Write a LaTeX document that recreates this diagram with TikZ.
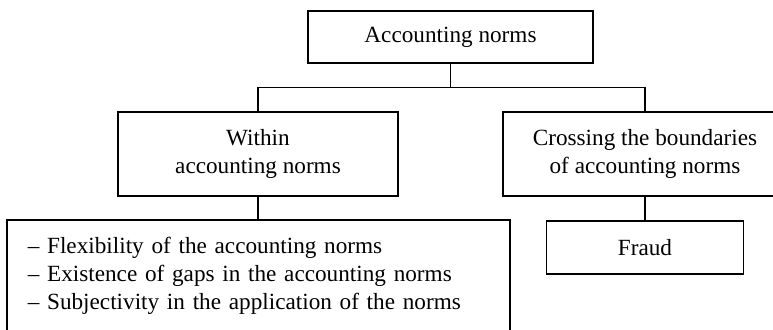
\documentclass[tikz,border=0pt]{standalone}
\usepackage{fontspec}
\setmainfont{Liberation Serif}
\usepackage{tikz}
\usetikzlibrary{positioning}

\begin{document}
\begin{tikzpicture}[x=0.5pt,y=-0.5pt,line width=0.9pt,
    blk/.style={draw=black,inner sep=0pt,align=center,font=\fontsize{11.6}{14}\selectfont}]
        \useasboundingbox (0,0) rectangle (773,329);
        \node[blk,minimum width=142.5pt,minimum height=26pt] (norms) at (450.5,37) {Accounting norms};
        \node[blk,minimum width=140pt,minimum height=42pt] (within) at (258,154) {Within\\accounting norms};
        \node[blk,minimum width=142pt,minimum height=42pt] (cross) at (645,154) {Crossing the boundaries\\of accounting norms};
        \node[blk,text width=230.5pt,inner xsep=10.5pt,minimum height=56pt,align=left] (list) at (258.3,276)
          {-- Flexibility of the accounting norms\\-- Existence of gaps in the accounting norms\\-- Subjectivity in the application of the norms};
        \node[blk,minimum width=98.5pt,minimum height=26.5pt] (fraud) at (645,247.5) {Fraud};
        \coordinate (fork) at (450.5,87.5);
        \draw (norms.south) -- (fork);
        \draw (within.north) |- (fork) -| (cross.north);
        \draw (within.south) -- (within.south |- list.north);
        \draw (cross.south) -- (fraud.north);
      \end{tikzpicture}
\end{document}
